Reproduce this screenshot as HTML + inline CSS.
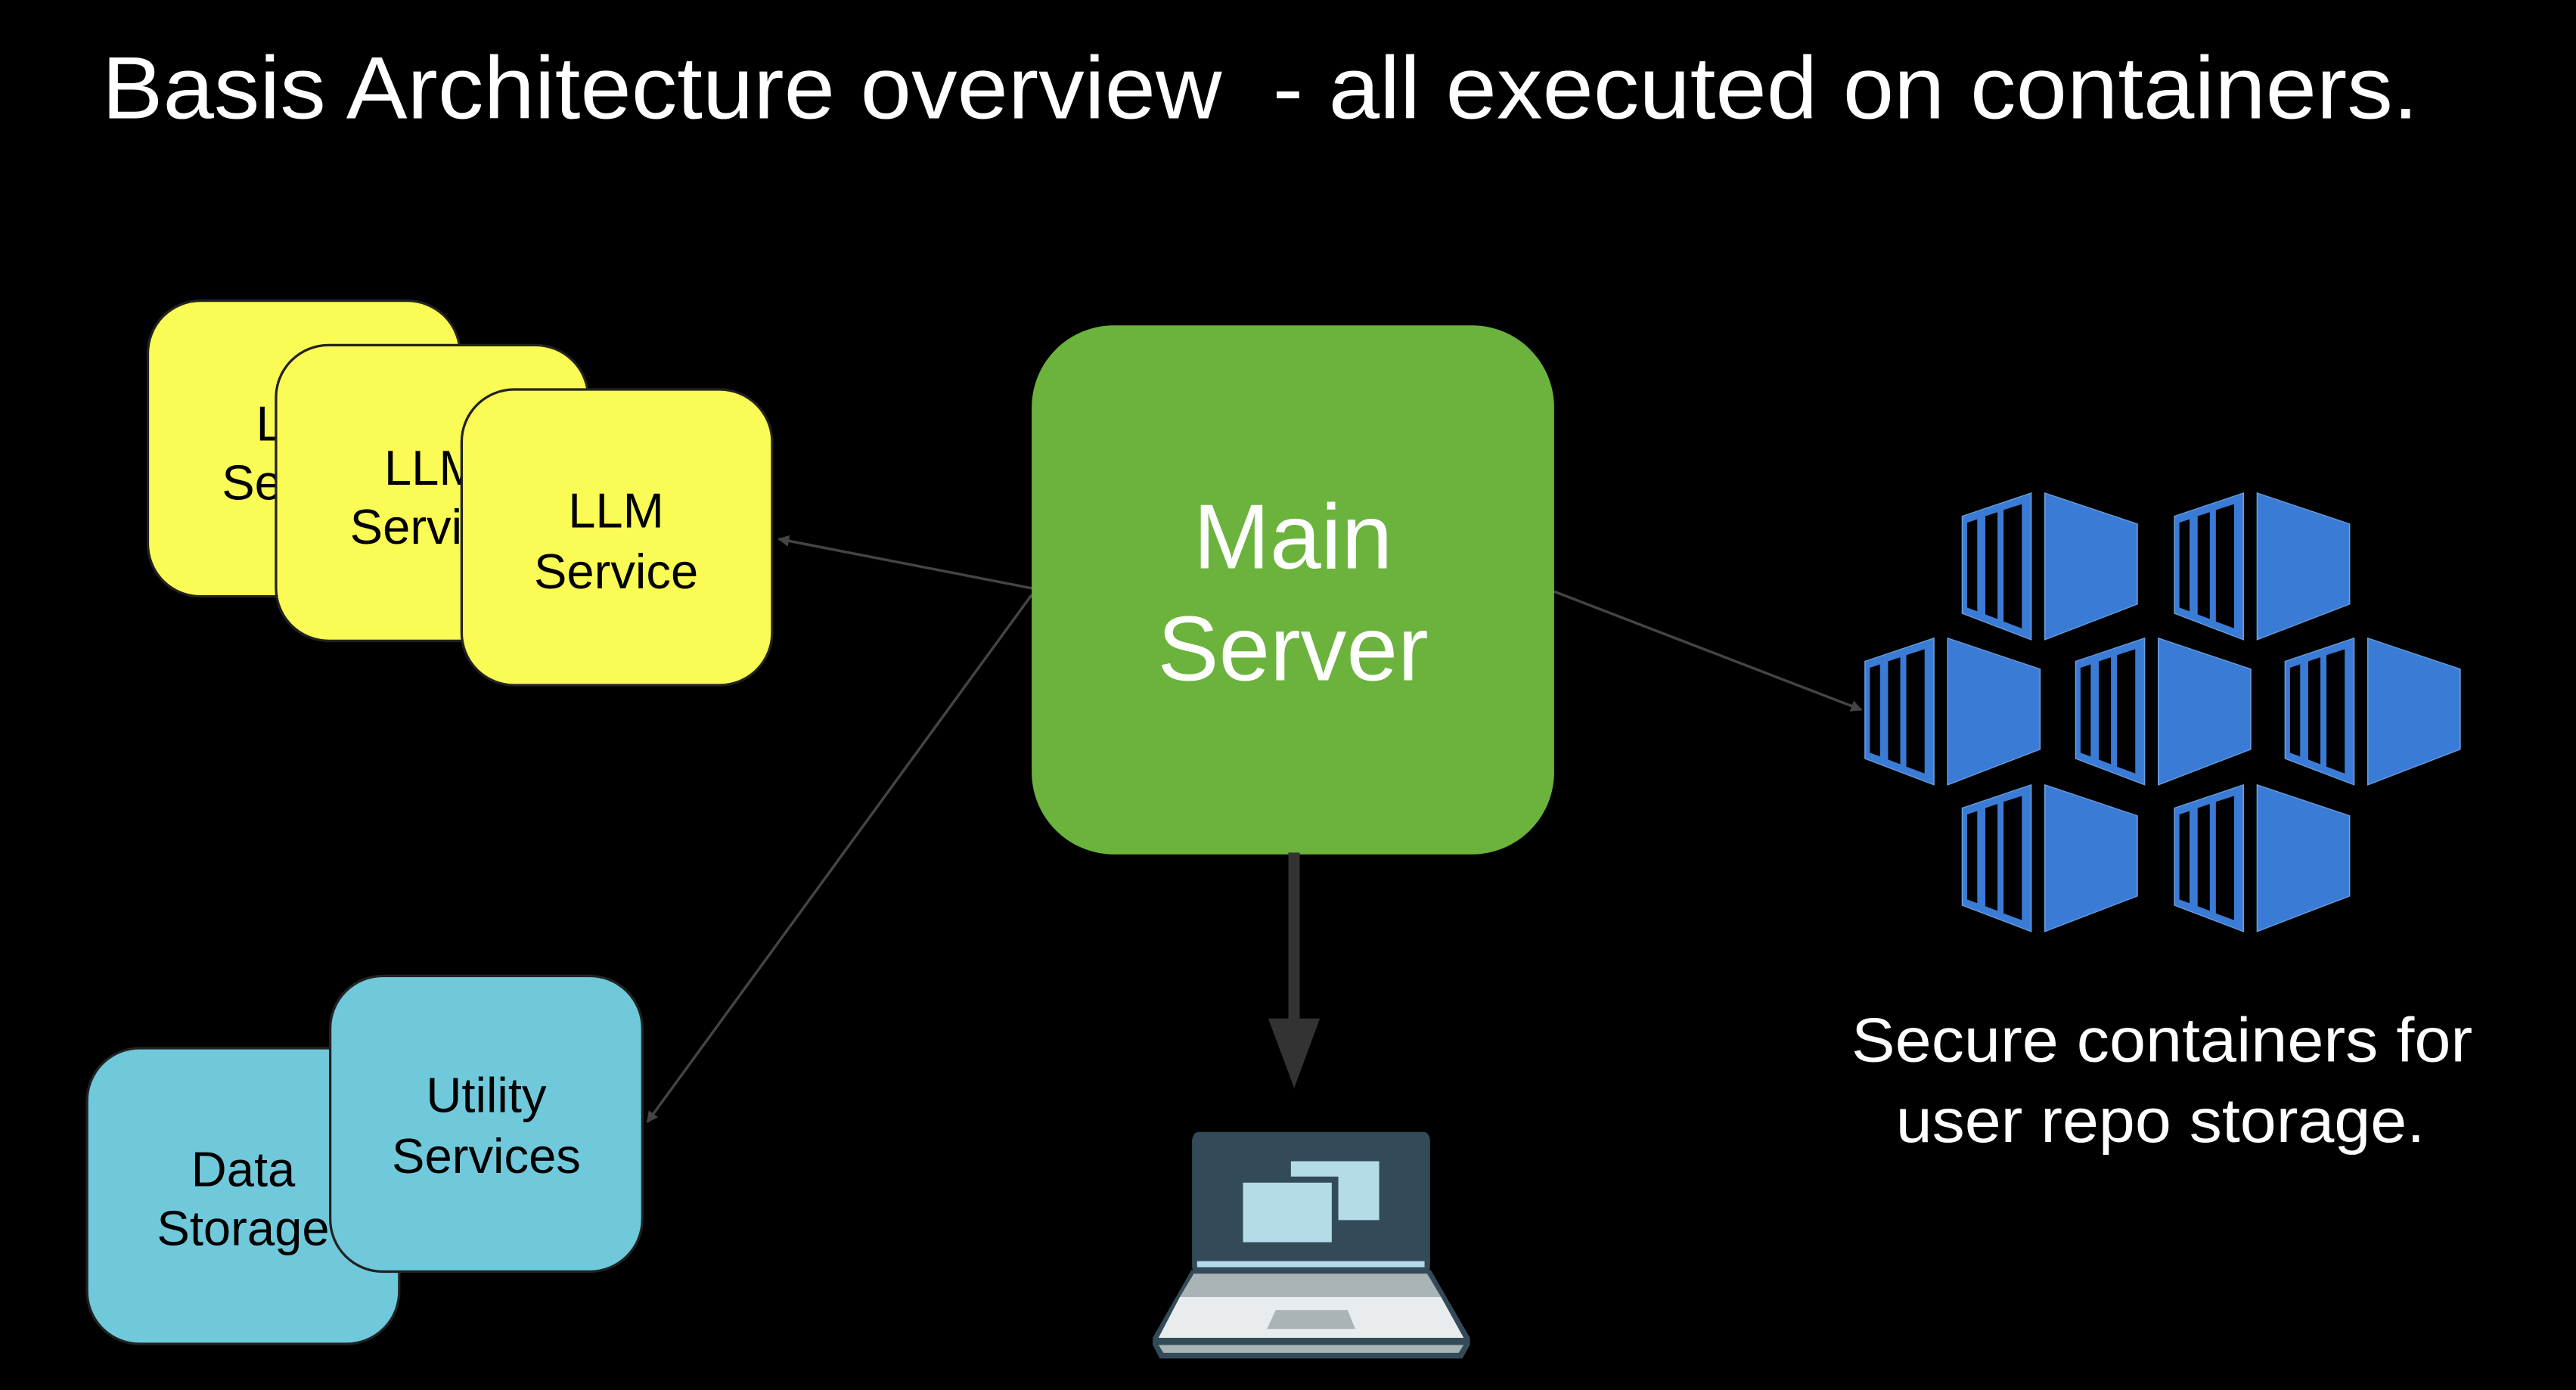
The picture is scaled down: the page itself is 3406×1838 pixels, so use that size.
<!DOCTYPE html>
<html><head><meta charset="utf-8"><style>
html,body{margin:0;padding:0;background:#000;width:3406px;height:1838px;overflow:hidden}
svg{display:block}
text{font-family:"Liberation Sans",Arial,sans-serif}
</style></head><body>
<svg width="3406" height="1838" viewBox="0 0 1568 846" xmlns="http://www.w3.org/2000/svg">
<defs>
<marker id="ah" viewBox="0 0 10 10" refX="9" refY="5" markerWidth="7" markerHeight="7" orient="auto" markerUnits="userSpaceOnUse">
<path d="M0,0 L10,5 L0,10 z" fill="#444"/>
</marker>
<g id="ct">
<polygon points="0,75 170,0 170,475 0,390" fill="#3a7bd5" stroke="#6a9fe0" stroke-width="3"/>
<polygon points="12,96 37,85 37,383 12,371" fill="#000"/>
<polygon points="57,75 87,62 87,408 57,393" fill="#000"/>
<polygon points="102,55 147,36 147,438 102,416" fill="#000"/>
<polygon points="204,0 432,100 432,360 204,475" fill="#3a7bd5" stroke="#6a9fe0" stroke-width="3"/>
</g>
</defs>
<rect width="1568" height="846" fill="#000"/>
<text x="62" y="72" font-size="54" fill="#fff" textLength="1410" lengthAdjust="spacingAndGlyphs" xml:space="preserve">Basis Architecture overview  - all executed on containers.</text>

<line x1="628" y1="358" x2="474" y2="328" stroke="#444" stroke-width="1.6" marker-end="url(#ah)"/>
<line x1="628" y1="362" x2="394" y2="683" stroke="#444" stroke-width="1.6" marker-end="url(#ah)"/>
<line x1="946" y1="360" x2="1133" y2="432" stroke="#444" stroke-width="1.6" marker-end="url(#ah)"/>

<rect x="90" y="183" width="190" height="180" rx="32" fill="#fbfb55" stroke="#222" stroke-width="1.5"/>
<text x="185" y="268" font-size="30" text-anchor="middle" fill="#000">LLM</text>
<text x="185" y="304" font-size="30" text-anchor="middle" fill="#000">Service</text>
<rect x="168" y="210" width="190" height="180" rx="32" fill="#fbfb55" stroke="#222" stroke-width="1.5"/>
<text x="263" y="295" font-size="30" text-anchor="middle" fill="#000">LLM</text>
<text x="263" y="331" font-size="30" text-anchor="middle" fill="#000">Service</text>
<rect x="281" y="237" width="189" height="180" rx="32" fill="#fbfb55" stroke="#222" stroke-width="1.5"/>
<text x="375" y="321" font-size="30" text-anchor="middle" fill="#000">LLM</text>
<text x="375" y="358" font-size="30" text-anchor="middle" fill="#000">Service</text>

<rect x="628" y="198" width="318" height="322" rx="50" fill="#6bb33d"/>
<text x="787" y="346" font-size="56" text-anchor="middle" fill="#fff">Main</text>
<text x="787" y="414" font-size="56" text-anchor="middle" fill="#fff">Server</text>

<rect x="53" y="638" width="190" height="180" rx="32" fill="#70c9db" stroke="#222" stroke-width="1.5"/>
<text x="148" y="722" font-size="30" text-anchor="middle" fill="#000">Data</text>
<text x="148" y="758" font-size="30" text-anchor="middle" fill="#000">Storage</text>
<rect x="201" y="594" width="190" height="180" rx="32" fill="#70c9db" stroke="#222" stroke-width="1.5"/>
<text x="296" y="677" font-size="30" text-anchor="middle" fill="#000">Utility</text>
<text x="296" y="714" font-size="30" text-anchor="middle" fill="#000">Services</text>

<g transform="translate(690.6,505.9) scale(0.1535,0.2172)">
<rect x="610" y="60" width="45" height="470" fill="#333"/>
<polygon points="530,525 735,525 633,720" fill="#333"/>
<rect x="228" y="843" width="944" height="400" rx="25" fill="#334a58"/>
<rect x="620" y="925" width="350" height="165" fill="#b3dbe8"/>
<rect x="418" y="968" width="390" height="194" fill="#334a58"/>
<rect x="430" y="985" width="352" height="167" fill="#b3dbe8"/>
<rect x="248" y="1205" width="902" height="17" fill="#b3dbe8"/>
<polygon points="225,1230 1175,1230 1330,1420 1330,1440 1300,1478 100,1478 72,1440 72,1420" fill="#334a58"/>
<polygon points="235,1240 1160,1240 1215,1305 180,1305" fill="#a9b4b7"/>
<polygon points="180,1305 1215,1305 1305,1420 95,1420" fill="#e8ecee"/>
<polygon points="95,1440 1305,1440 1285,1462 115,1462" fill="#a9b4b7"/>
<polygon points="560,1342 845,1342 875,1395 525,1395" fill="#a9b4b7"/>
</g>

<g transform="translate(1123.4,285) scale(0.2466,0.188)">
<use href="#ct" x="288" y="80"/>
<use href="#ct" x="812" y="80"/>
<use href="#ct" x="48" y="550"/>
<use href="#ct" x="568" y="550"/>
<use href="#ct" x="1085" y="550"/>
<use href="#ct" x="288" y="1025"/>
<use href="#ct" x="812" y="1025"/>
</g>

<text x="1127" y="646" font-size="38" fill="#fff" textLength="378" lengthAdjust="spacingAndGlyphs">Secure containers for</text>
<text x="1154" y="695" font-size="38" fill="#fff" textLength="322" lengthAdjust="spacingAndGlyphs">user repo storage.</text>
</svg>
</body></html>
